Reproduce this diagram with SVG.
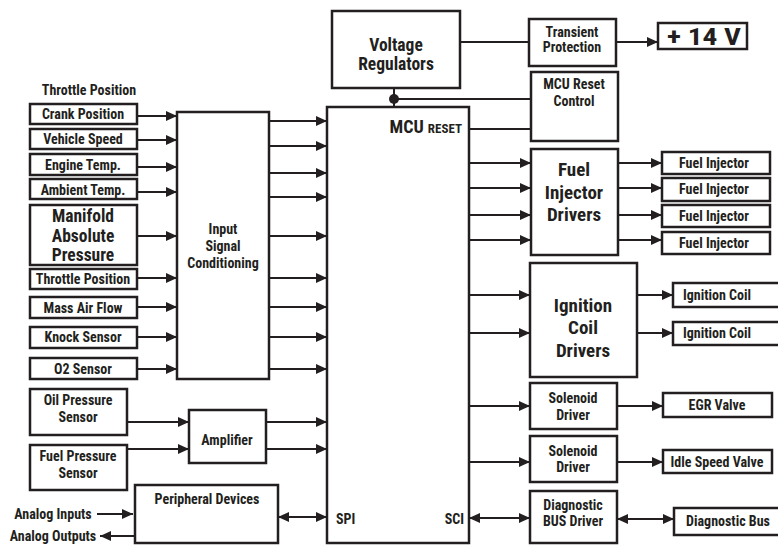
<svg xmlns="http://www.w3.org/2000/svg" width="778" height="554" viewBox="0 0 778 554">
<style>
.b{fill:#fff;stroke:#231f20;stroke-width:2.5}
.c{fill:none;stroke:#231f20;stroke-width:2}
.a{marker-end:url(#ah)}
.d{marker-start:url(#ahs);marker-end:url(#ah)}
text{font-family:"Liberation Sans Narrow","Roboto Condensed","DejaVu Sans Condensed","Liberation Sans",sans-serif;font-weight:bold;fill:#231f20;text-anchor:middle}
.s{font-size:14px}
.m{font-size:14px}
.l{font-size:19px}
.k{font-size:17.5px}
</style>
<defs>
<marker id="ah" markerUnits="userSpaceOnUse" markerWidth="12" markerHeight="10" refX="11" refY="5" orient="auto"><path d="M0,0 L11,5 L0,10 Z" fill="#231f20"/></marker>
<marker id="ahs" markerUnits="userSpaceOnUse" markerWidth="12" markerHeight="10" refX="0" refY="5" orient="auto"><path d="M11,0 L0,5 L11,10 Z" fill="#231f20"/></marker>
</defs>
<text class="s" x="89" y="95">Throttle Position</text>
<g id="crank"><rect class="b" x="30" y="104" width="107" height="20"/><text class="s" x="83" y="119">Crank Position</text></g>
<g id="speed"><rect class="b" x="30" y="129" width="107" height="20"/><text class="s" x="83" y="144">Vehicle Speed</text></g>
<g id="engine"><rect class="b" x="30" y="154" width="107" height="21"/><text class="s" x="83" y="170">Engine Temp.</text></g>
<g id="ambient"><rect class="b" x="30" y="179" width="107" height="20"/><text class="s" x="83" y="195">Ambient Temp.</text></g>
<g id="manifold"><rect class="b" x="30" y="205" width="107" height="60"/><text class="k" x="83" y="222">Manifold</text><text class="k" x="83" y="242">Absolute</text><text class="k" x="83" y="261">Pressure</text></g>
<g id="throttle"><rect class="b" x="30" y="269" width="107" height="20"/><text class="s" x="83" y="284">Throttle Position</text></g>
<g id="maf"><rect class="b" x="30" y="297" width="107" height="21"/><text class="s" x="83" y="313">Mass Air Flow</text></g>
<g id="knock"><rect class="b" x="30" y="327" width="107" height="21"/><text class="s" x="83" y="342">Knock Sensor</text></g>
<g id="o2"><rect class="b" x="30" y="358" width="107" height="21"/><text class="s" x="83" y="374">O2 Sensor</text></g>
<g id="isc"><rect class="b" x="177" y="112" width="92" height="267"/><text class="m" x="223" y="234">Input</text><text class="m" x="223" y="251">Signal</text><text class="m" x="223" y="268">Conditioning</text></g>
<g id="oil"><rect class="b" x="30" y="389" width="97" height="46"/><text class="m" x="78" y="405">Oil Pressure</text><text class="m" x="78" y="422">Sensor</text></g>
<g id="fuelp"><rect class="b" x="30" y="445" width="97" height="45"/><text class="m" x="78" y="461">Fuel Pressure</text><text class="m" x="78" y="478">Sensor</text></g>
<g id="amp"><rect class="b" x="189" y="410" width="77" height="53"/><text class="m" x="227" y="445">Amplifier</text></g>
<g id="periph"><rect class="b" x="135" y="485" width="143" height="58"/><text class="m" x="207" y="504">Peripheral Devices</text></g>
<text class="s" x="53" y="519">Analog Inputs</text>
<text class="s" x="53" y="541">Analog Outputs</text>
<g id="vreg"><rect class="b" x="332" y="11" width="128" height="77"/><text class="k" x="396" y="51">Voltage</text><text class="k" x="396" y="70">Regulators</text></g>
<g id="transient"><rect class="b" x="529" y="19" width="87" height="47"/><text class="s" x="572" y="37">Transient</text><text class="s" x="572" y="52">Protection</text></g>
<g id="v14"><rect class="b" x="658" y="23" width="89" height="26"/><text x="704" y="45" textLength="74" lengthAdjust="spacingAndGlyphs" style="font-size:23px">+ 14 V</text></g>
<g id="mcu"><rect class="b" x="327" y="107" width="142" height="436"/><text x="462" y="133" style="text-anchor:end;font-size:18px">MCU <tspan style="font-size:13px">RESET</tspan></text><text class="m" x="336" y="524" style="text-anchor:start">SPI</text><text class="m" x="464" y="524" style="text-anchor:end">SCI</text></g>
<g id="resetctl"><rect class="b" x="531" y="72" width="87" height="69"/><text class="s" x="574" y="89">MCU Reset</text><text class="s" x="574" y="106">Control</text></g>
<g id="fid"><rect class="b" x="531" y="149" width="87" height="106"/><text class="l" x="574" y="176">Fuel</text><text class="l" x="574" y="199">Injector</text><text class="l" x="574" y="221">Drivers</text></g>
<g id="fi1"><rect class="b" x="662" y="152" width="108" height="22"/><text class="s" x="714" y="168">Fuel Injector</text></g>
<g id="fi2"><rect class="b" x="662" y="178" width="108" height="23"/><text class="s" x="714" y="194">Fuel Injector</text></g>
<g id="fi3"><rect class="b" x="662" y="205" width="108" height="22"/><text class="s" x="714" y="221">Fuel Injector</text></g>
<g id="fi4"><rect class="b" x="662" y="232" width="108" height="22"/><text class="s" x="714" y="248">Fuel Injector</text></g>
<g id="icd"><rect class="b" x="530" y="263" width="107" height="114"/><text class="l" x="583" y="312">Ignition</text><text class="l" x="583" y="334">Coil</text><text class="l" x="583" y="357">Drivers</text></g>
<g id="ic1"><rect class="b" x="673" y="283" width="110" height="24"/><text class="s" x="717" y="300">Ignition Coil</text></g>
<g id="ic2"><rect class="b" x="673" y="322" width="110" height="23"/><text class="s" x="717" y="338">Ignition Coil</text></g>
<g id="sd1"><rect class="b" x="530" y="383" width="87" height="46"/><text class="s" x="573" y="403">Solenoid</text><text class="s" x="573" y="420">Driver</text></g>
<g id="egr"><rect class="b" x="663" y="393" width="109" height="24"/><text class="s" x="717" y="410">EGR Valve</text></g>
<g id="sd2"><rect class="b" x="530" y="436" width="87" height="46"/><text class="s" x="573" y="456">Solenoid</text><text class="s" x="573" y="472">Driver</text></g>
<g id="idle"><rect class="b" x="663" y="450" width="109" height="23"/><text class="s" x="717" y="467">Idle Speed Valve</text></g>
<g id="dbd"><rect class="b" x="530" y="491" width="87" height="52"/><text class="s" x="573" y="510">Diagnostic</text><text class="s" x="573" y="526">BUS Driver</text></g>
<g id="dbus"><rect class="b" x="674" y="508" width="106" height="27"/><text class="s" x="728" y="526">Diagnostic Bus</text></g>
<g id="connectors">
<path class="c a" d="M137,116H177"/>
<path class="c a" d="M137,140H177"/>
<path class="c a" d="M137,167H177"/>
<path class="c a" d="M137,192H177"/>
<path class="c a" d="M137,236H177"/>
<path class="c a" d="M137,278H177"/>
<path class="c a" d="M137,307H177"/>
<path class="c a" d="M137,337H177"/>
<path class="c a" d="M137,369H177"/>
<path class="c a" d="M269,121H327"/>
<path class="c a" d="M269,146H327"/>
<path class="c a" d="M269,173H327"/>
<path class="c a" d="M269,197H327"/>
<path class="c a" d="M269,236H327"/>
<path class="c a" d="M269,278H327"/>
<path class="c a" d="M269,307H327"/>
<path class="c a" d="M269,337H327"/>
<path class="c a" d="M269,369H327"/>
<path class="c a" d="M127,422H189"/>
<path class="c a" d="M127,449H189"/>
<path class="c a" d="M266,422H327"/>
<path class="c a" d="M266,449H327"/>
<path class="c a" d="M97,514H133"/>
<path class="c a" d="M135,536H100"/>
<path class="c d" d="M278,517H327"/>
<path class="c" d="M460,42H529"/>
<path class="c a" d="M616,42H658"/>
<path class="c" d="M394,88V107M394,99H531"/>
<circle cx="394" cy="99" r="5" fill="#231f20"/>
<path class="c" d="M469,129H531"/>
<path class="c a" d="M469,163H531"/>
<path class="c a" d="M469,188H531"/>
<path class="c a" d="M469,215H531"/>
<path class="c a" d="M469,240H531"/>
<path class="c a" d="M618,163H662"/>
<path class="c a" d="M618,188H662"/>
<path class="c a" d="M618,215H662"/>
<path class="c a" d="M618,240H662"/>
<path class="c a" d="M469,295H530"/>
<path class="c a" d="M469,333H530"/>
<path class="c a" d="M637,295H673"/>
<path class="c a" d="M637,333H673"/>
<path class="c a" d="M469,406H530"/>
<path class="c a" d="M617,406H663"/>
<path class="c a" d="M469,462H530"/>
<path class="c a" d="M617,462H663"/>
<path class="c d" d="M469,518H530"/>
<path class="c d" d="M617,519H674"/>
</g>
</svg>
